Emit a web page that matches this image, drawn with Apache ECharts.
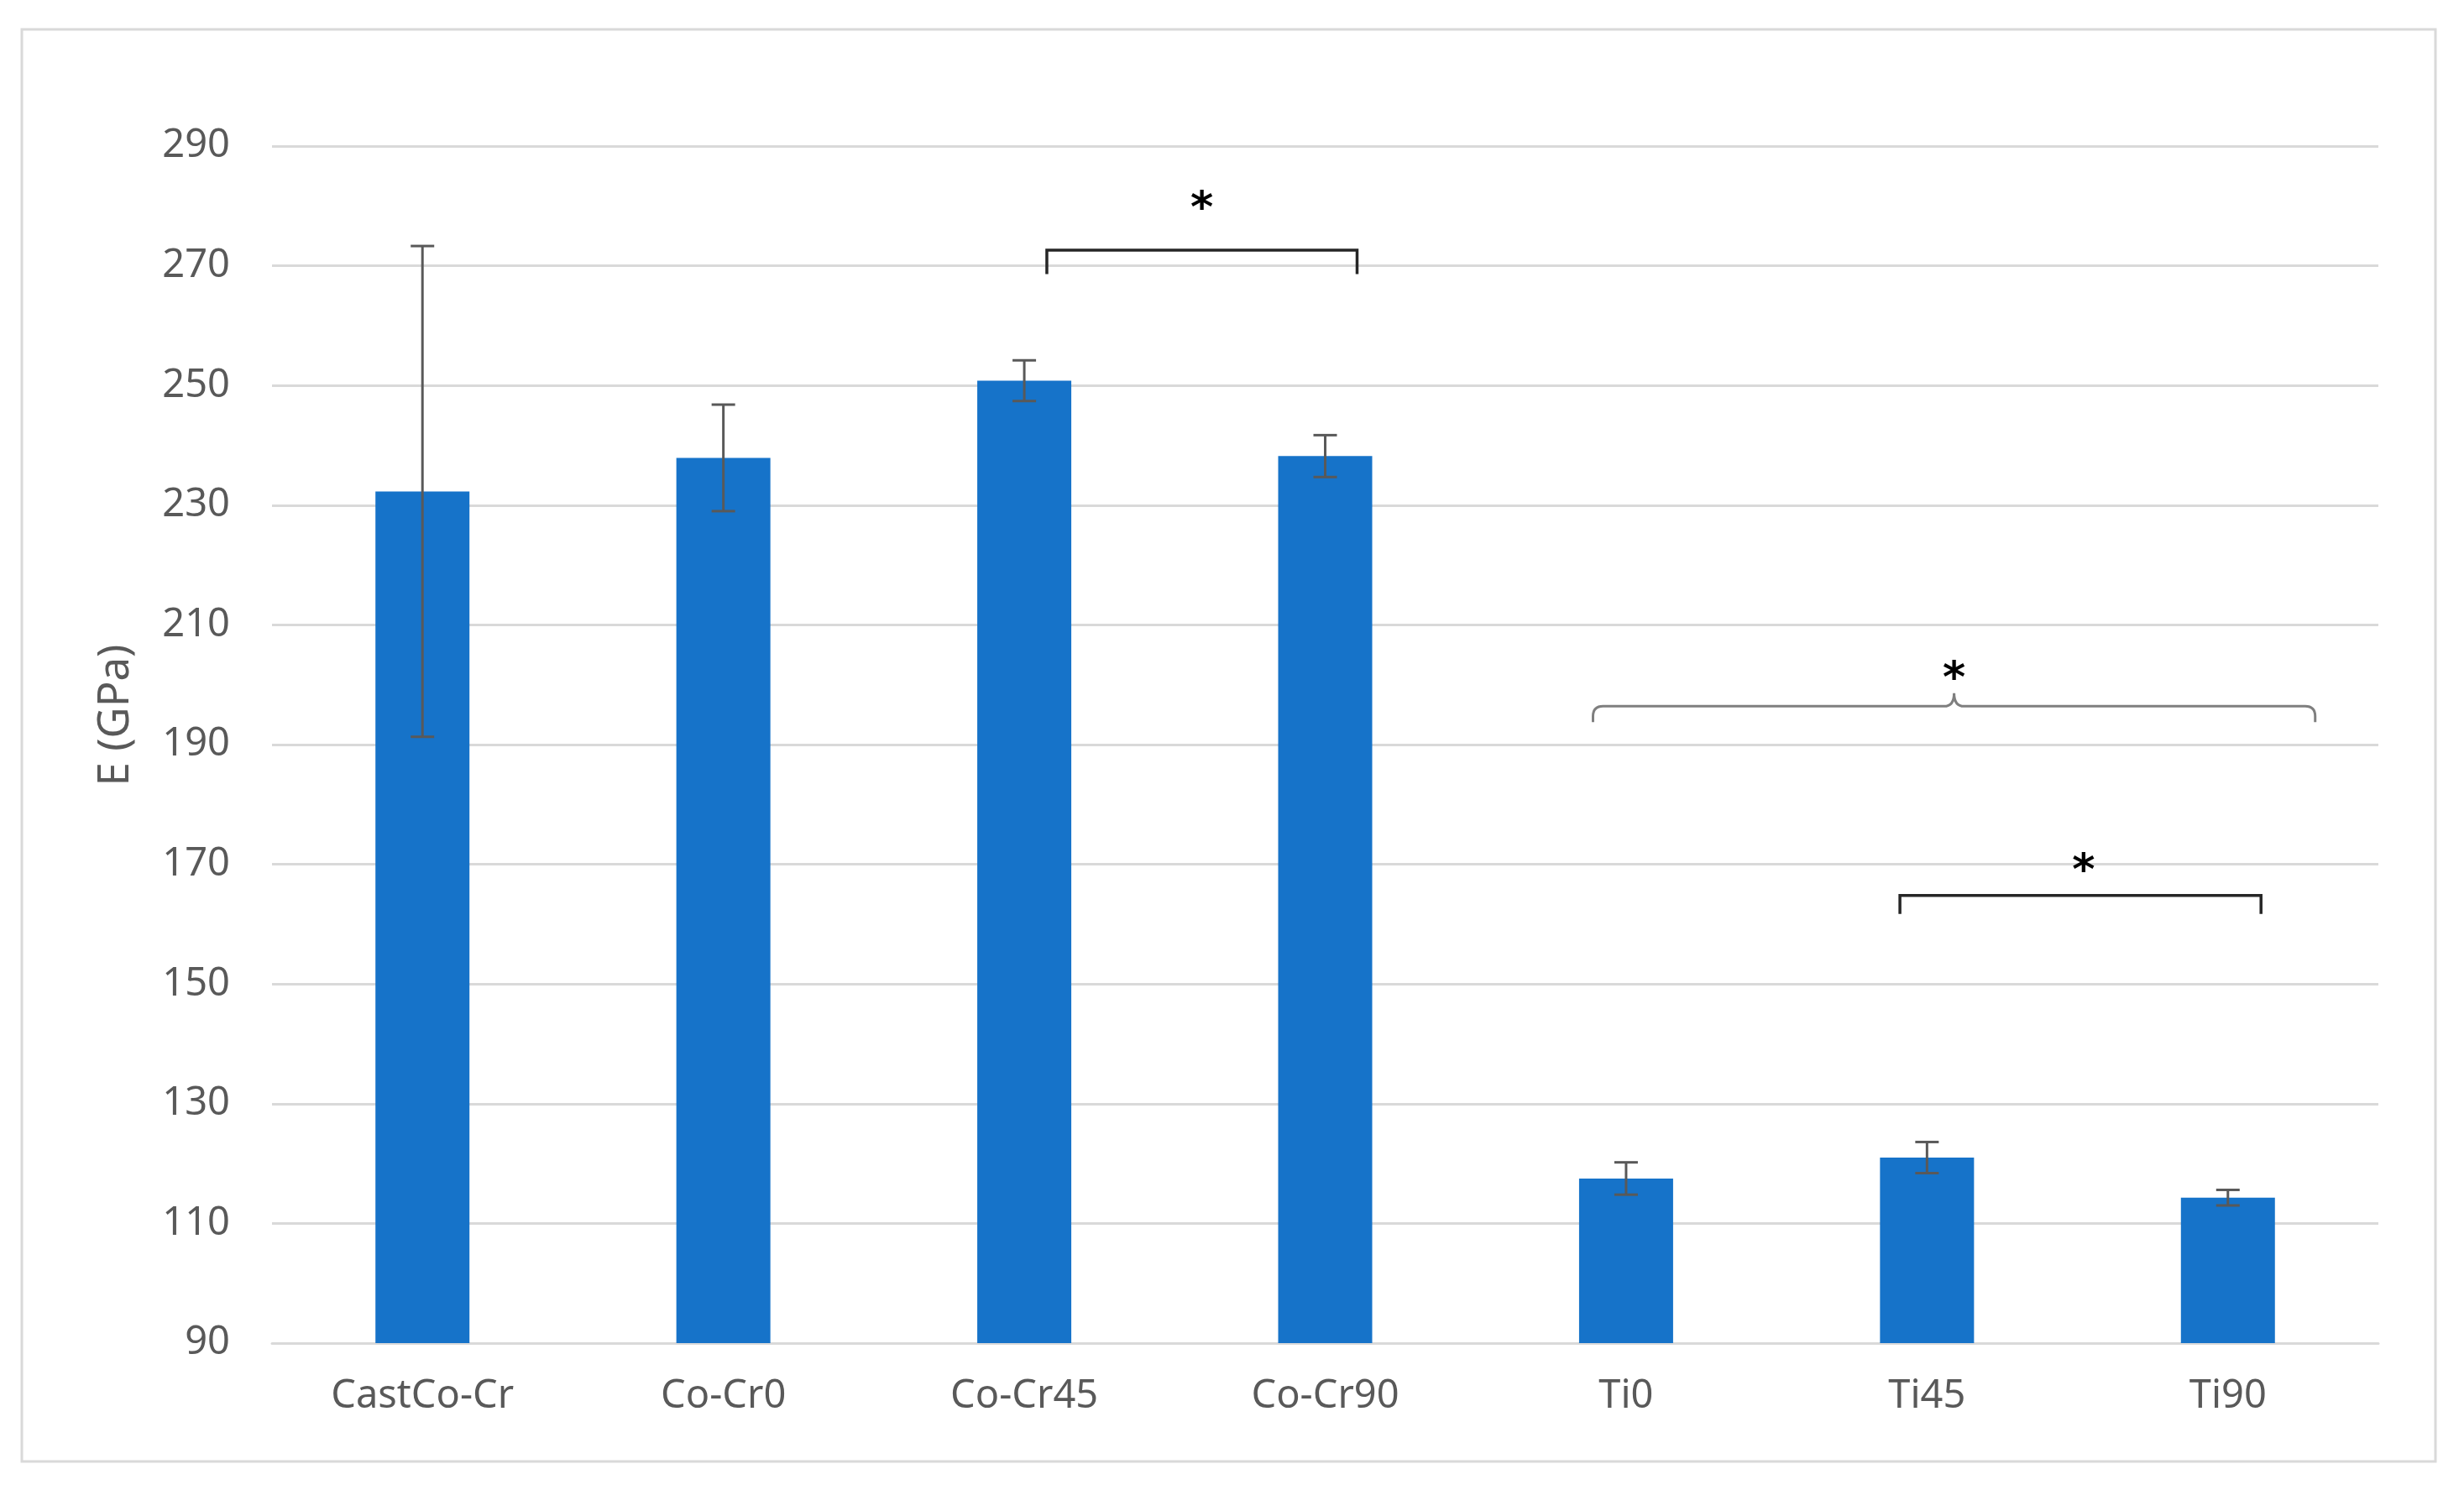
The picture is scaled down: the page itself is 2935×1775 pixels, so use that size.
<!DOCTYPE html>
<html>
<head>
<meta charset="utf-8">
<script src="https://cdn.jsdelivr.net/npm/echarts@6/dist/echarts.min.js"></script>
<style>
  html, body { margin: 0; padding: 0; background: #fff; }
  #chart { width: 2935px; height: 1775px; }
</style>
</head>
<body>
<div id="chart"></div>
<script>
// data
var categories = ['CastCo-Cr', 'Co-Cr0', 'Co-Cr45', 'Co-Cr90', 'Ti0', 'Ti45', 'Ti90']
var modulus = [232.3, 237.9, 250.8, 238.2, 117.5, 121.0, 114.3]
var errors = [41.0, 8.9, 3.4, 3.5, 2.7, 2.6, 1.3]
var yTicks = {min: 90, max: 290, step: 20}

// significance marks: x in category index units, y in GPa
var brackets = [
  {from: 2.075, to: 3.106, top: 272.6, foot: 268.6},
  {from: 4.91, to: 6.11, top: 164.8, foot: 161.7}
]
var braces = [
  {from: 3.89, mid: 5.09, to: 6.29, top: 196.4, foot: 193.75, peak: 198.6}
]
var stars = [
  [2.59, 280.8],
  [5.09, 202.3],
  [5.52, 170.1]
]

var font = '"Noto Sans", "Open Sans", sans-serif'
var grey = '#595959'

function xAt(api, x, y) {
  var i = Math.round(x)
  var band = api.size([1, 0])[0]
  var p = api.coord([i, y])
  return [p[0] + (x - i) * band, p[1]]
}

var chart = echarts.init(document.getElementById('chart'))

var option = {
  animation: false,
  backgroundColor: '#fff',
  graphic: [{
    type: 'rect',
    shape: {x: 26, y: 35, width: 2875, height: 1706},
    style: {fill: 'none', stroke: '#d9d9d9', lineWidth: 3},
    silent: true
  }, {
    // y axis title sits a little above the plot middle in the original
    type: 'text',
    x: 138,
    y: 852,
    rotation: Math.PI / 2,
    style: {
      text: 'E (GPa)',
      fill: grey,
      font: '51px "Noto Sans", "Open Sans", sans-serif',
      textAlign: 'center',
      textVerticalAlign: 'middle'
    },
    silent: true
  }],
  grid: {left: 324, right: 102, top: 174, bottom: 175},
  xAxis: {
    type: 'category',
    data: categories,
    axisLine: {lineStyle: {color: '#d9d9d9', width: 3}},
    axisTick: {show: false},
    axisLabel: {color: grey, fontSize: 47, fontFamily: font, margin: 40}
  },
  yAxis: {
    type: 'value',
    min: yTicks.min,
    max: yTicks.max,
    interval: yTicks.step,
    axisLine: {show: false},
    axisTick: {show: false},
    axisLabel: {color: grey, fontSize: 47, fontFamily: font, margin: 50},
    splitLine: {lineStyle: {color: '#d9d9d9', width: 3}}
  },
  series: [
    {
      type: 'bar',
      data: modulus,
      barWidth: 112,
      itemStyle: {color: '#1673C9'},
      z: 2
    },
    {
      type: 'custom',
      z: 5,
      data: modulus.map(function(v, i) { return [i, v, errors[i]] }),
      renderItem: function(params, api) {
        var i = api.value(0), v = api.value(1), e = api.value(2)
        var hi = api.coord([i, v + e])
        var lo = api.coord([i, v - e])
        var cap = 14
        var style = {stroke: grey, lineWidth: 3, fill: 'none'}
        return {
          type: 'group',
          children: [
            {type: 'line', shape: {x1: hi[0], y1: hi[1], x2: lo[0], y2: lo[1]}, style: style},
            {type: 'line', shape: {x1: hi[0] - cap, y1: hi[1], x2: hi[0] + cap, y2: hi[1]}, style: style},
            {type: 'line', shape: {x1: lo[0] - cap, y1: lo[1], x2: lo[0] + cap, y2: lo[1]}, style: style}
          ]
        }
      }
    },
    {
      type: 'custom',
      z: 6,
      data: brackets.map(function(b) { return [b.from, b.to, b.top, b.foot] }),
      renderItem: function(params, api) {
        var a = xAt(api, api.value(0), api.value(2))
        var b = xAt(api, api.value(1), api.value(2))
        var foot = api.coord([0, api.value(3)])[1]
        return {
          type: 'polyline',
          shape: {points: [[a[0], foot], [a[0], a[1]], [b[0], b[1]], [b[0], foot]]},
          style: {stroke: '#262626', lineWidth: 3.5, fill: 'none'}
        }
      }
    },
    {
      type: 'custom',
      z: 6,
      data: braces.map(function(b) { return [b.from, b.mid, b.to, b.top, b.foot, b.peak] }),
      renderItem: function(params, api) {
        var l = xAt(api, api.value(0), api.value(3))
        var m = xAt(api, api.value(1), api.value(3))
        var r = xAt(api, api.value(2), api.value(3))
        var y = l[1]
        var foot = api.coord([0, api.value(4)])[1]
        var peak = api.coord([0, api.value(5)])[1]
        var c = 12
        var d = 'M' + l[0] + ',' + foot +
          ' L' + l[0] + ',' + (y + c) +
          ' Q' + l[0] + ',' + y + ' ' + (l[0] + c) + ',' + y +
          ' L' + (m[0] - c) + ',' + y +
          ' Q' + m[0] + ',' + y + ' ' + m[0] + ',' + peak +
          ' Q' + m[0] + ',' + y + ' ' + (m[0] + c) + ',' + y +
          ' L' + (r[0] - c) + ',' + y +
          ' Q' + r[0] + ',' + y + ' ' + r[0] + ',' + (y + c) +
          ' L' + r[0] + ',' + foot
        return {
          type: 'path',
          shape: {pathData: d},
          style: {stroke: '#7f7f7f', lineWidth: 3, fill: 'none'}
        }
      }
    },
    {
      type: 'custom',
      z: 7,
      data: stars,
      renderItem: function(params, api) {
        var p = xAt(api, api.value(0), api.value(1))
        return {
          type: 'text',
          x: p[0],
          y: p[1] + 11,
          style: {
            text: '*',
            fill: '#000',
            font: 'bold 52px "DejaVu Sans", sans-serif',
            textAlign: 'center',
            textVerticalAlign: 'middle'
          }
        }
      }
    }
  ]
}

chart.setOption(option)
</script>
</body>
</html>
